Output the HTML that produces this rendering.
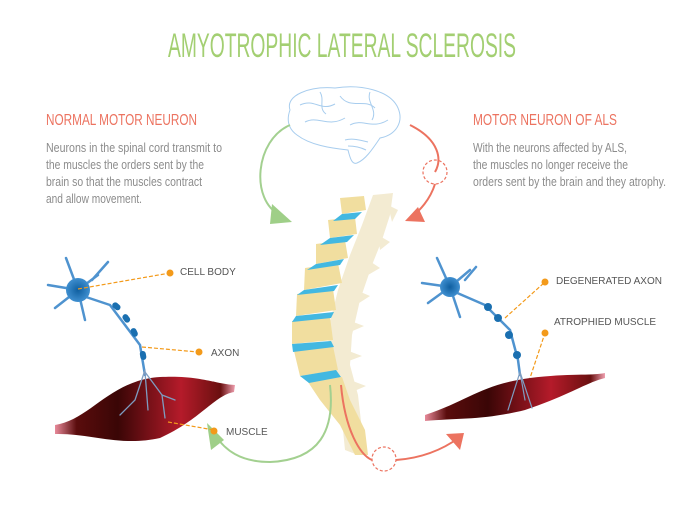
<!DOCTYPE html>
<html><head><meta charset="utf-8"><style>
html,body{margin:0;padding:0;background:#fff;width:683px;height:512px;overflow:hidden}
svg{display:block}
text{font-family:"Liberation Sans Narrow","Liberation Sans",sans-serif}
</style></head><body>
<svg width="683" height="512" viewBox="0 0 683 512">
<defs>
<linearGradient id="m1" x1="0" y1="0" x2="1" y2="0">
<stop offset="0" stop-color="#e88a9a"/><stop offset="0.12" stop-color="#5a0c0c"/><stop offset="0.35" stop-color="#3a0606"/><stop offset="0.7" stop-color="#b51b2a"/><stop offset="0.92" stop-color="#6a1010"/><stop offset="1" stop-color="#f0a0b0"/>
</linearGradient>
<radialGradient id="cb" cx="0.5" cy="0.5" r="0.5"><stop offset="0" stop-color="#0f5fa0"/><stop offset="1" stop-color="#3f8fd0"/></radialGradient>
</defs>

<text x="342" y="57" text-anchor="middle" font-size="34" fill="#a3cf72" textLength="348" lengthAdjust="spacingAndGlyphs">AMYOTROPHIC LATERAL SCLEROSIS</text>

<text x="46" y="125" font-size="16" fill="#ec7360" textLength="151" lengthAdjust="spacingAndGlyphs">NORMAL MOTOR NEURON</text>
<g font-size="12.5" fill="#8c8c8c">
<text x="46" y="152" textLength="176" lengthAdjust="spacingAndGlyphs">Neurons in the spinal cord transmit to</text>
<text x="46" y="169" textLength="158" lengthAdjust="spacingAndGlyphs">the muscles the orders sent by the</text>
<text x="46" y="186" textLength="156" lengthAdjust="spacingAndGlyphs">brain so that the muscles contract</text>
<text x="46" y="203" textLength="96" lengthAdjust="spacingAndGlyphs">and allow movement.</text>
</g>
<text x="473" y="125" font-size="16" fill="#ec7360" textLength="144" lengthAdjust="spacingAndGlyphs">MOTOR NEURON OF ALS</text>
<g font-size="12.5" fill="#8c8c8c">
<text x="473" y="152" textLength="154" lengthAdjust="spacingAndGlyphs">With the neurons affected by ALS,</text>
<text x="473" y="169" textLength="155" lengthAdjust="spacingAndGlyphs">the muscles no longer receive the</text>
<text x="473" y="186" textLength="193" lengthAdjust="spacingAndGlyphs">orders sent by the brain and they atrophy.</text>
</g>

<!-- brain -->
<g fill="none" stroke="#a8cdee" stroke-width="1">
<path d="M290 110 C285 95 310 86 335 88 C360 84 390 90 398 108 C404 122 396 135 380 138 C372 150 365 160 357 163 C352 165 350 158 348 150 C330 148 310 145 297 135 C287 128 287 118 290 110Z"/>
<path d="M300 105 C315 98 320 112 335 104 M340 96 C350 110 365 98 375 108 M305 122 C318 115 328 128 345 118 M350 125 C362 118 372 130 388 120 M320 92 C325 100 318 108 326 114 M370 92 C366 102 378 110 372 120"/>
<path d="M345 140 C352 138 360 140 368 142 M348 146 C356 146 362 148 366 150"/>
</g>

<!-- arrows green top -->
<path d="M290 125 C255 140 250 200 280 215" fill="none" stroke="#a3d090" stroke-width="2"/>
<path d="M272 204 L292 222 L270 224 Z" fill="#9fcf88"/>
<!-- red top -->
<path d="M410 125 C440 140 442 160 435 172" fill="none" stroke="#ec7360" stroke-width="2"/>
<circle cx="435" cy="172" r="12" fill="none" stroke="#ec7360" stroke-width="1.2" stroke-dasharray="3 2"/>
<path d="M435 184 C430 200 420 210 410 219" fill="none" stroke="#ec7360" stroke-width="2"/>
<path d="M418 207 L405 221 L425 222 Z" fill="#ec7360"/>

<!-- spine back processes -->
<g fill="#f3ebd2">
<path d="M373 195 L393 193 L390 215 L382 240 L372 265 L360 300 L352 335 L350 365 L358 395 L362 430 L358 455 L345 450 L340 400 L330 370 L328 330 L338 290 L350 255 L362 225Z"/>
<path d="M388 205 L398 210 L392 222 Z M378 235 L390 242 L380 250Z M368 260 L380 268 L368 275Z M356 290 L370 296 L356 305Z M348 320 L364 326 L348 333Z M346 350 L362 356 L346 362Z M350 380 L366 386 L352 392Z"/>
</g>
<!-- spine bodies -->
<g fill="#f1de9f">
<path d="M340 198 L364 196 L366 210 L342 214Z"/>
<path d="M328 220 L355 217 L357 234 L330 238Z"/>
<path d="M316 244 L345 240 L348 258 L316 264Z"/>
<path d="M305 268 L338 263 L342 283 L304 290Z"/>
<path d="M297 294 L333 289 L336 310 L296 316Z"/>
<path d="M292 321 L330 317 L333 340 L292 344Z"/>
<path d="M294 351 L333 346 L338 370 L300 376Z"/>
<path d="M308 382 L342 377 L350 400 L365 430 L368 455 L355 455 L340 425 L320 400Z"/>
</g>
<g fill="#43b8e1">
<path d="M342 214 L362 212 L355 219 L333 221Z"/>
<path d="M330 238 L354 235 L347 242 L320 245Z"/>
<path d="M316 264 L344 259 L340 265 L307 270Z"/>
<path d="M304 290 L338 285 L334 291 L297 295Z"/>
<path d="M296 316 L334 312 L331 318 L292 322Z"/>
<path d="M292 344 L331 341 L334 347 L293 352Z"/>
<path d="M300 376 L336 370 L341 377 L309 383Z"/>
</g>

<!-- bottom arrows -->
<path d="M330 385 C335 430 320 460 270 462 C240 462 225 450 215 435" fill="none" stroke="#a3d090" stroke-width="2"/>
<path d="M207 423 L224 440 L211 450 Z" fill="#9fcf88"/>
<path d="M341 385 C345 430 360 455 372 460" fill="none" stroke="#ec7360" stroke-width="2"/>
<circle cx="384" cy="459" r="12" fill="none" stroke="#ec7360" stroke-width="1.2" stroke-dasharray="3 2"/>
<path d="M396 460 C425 458 445 448 460 437" fill="none" stroke="#ec7360" stroke-width="2"/>
<path d="M446 434 L464 433 L460 450 Z" fill="#ec7360"/>

<!-- left muscle -->
<path d="M55 425 C90 420 110 380 160 377 C200 375 215 384 235 385 L234 392 C215 395 200 420 160 438 C120 447 90 433 55 434Z" fill="url(#m1)"/>
<!-- left neuron -->
<g stroke="#4f93cf" fill="none" stroke-linecap="round">
<path d="M78 290 L66 258 M78 290 L48 285 M78 290 L55 308 M78 290 L85 320 M78 290 L98 275 M92 280 L108 262 M80 295 L110 305 L140 345 L145 375" stroke-width="2.5"/>
<path d="M145 370 L135 400 L120 415 M145 372 L148 410 M145 372 L162 395 L165 418 M162 395 L175 400" stroke-width="1.3" stroke="#7e9cc0"/>
</g>
<circle cx="78" cy="290" r="12" fill="url(#cb)"/>
<g fill="#1a6fb0">
<rect x="112" y="303" width="9" height="6" rx="3" transform="rotate(40 116 306)"/>
<rect x="122" y="315" width="9" height="6" rx="3" transform="rotate(55 126 318)"/>
<rect x="130" y="329" width="9" height="6" rx="3" transform="rotate(65 134 332)"/>
<rect x="139" y="352" width="9" height="6" rx="3" transform="rotate(80 143 355)"/>
</g>
<g stroke="#f39a1a" stroke-dasharray="4 2" stroke-width="1.2" fill="none">
<path d="M78 289 L170 273"/><path d="M142 347 L198 352"/><path d="M168 422 L214 430"/>
<path d="M505 318 L545 282"/><path d="M525 393 L545 333"/>
</g>
<g fill="#f39a1a">
<circle cx="170" cy="273" r="3.5"/><circle cx="199" cy="352" r="3.5"/><circle cx="214" cy="431" r="3.5"/>
<circle cx="545" cy="282" r="3.5"/><circle cx="545" cy="333" r="3.5"/>
</g>
<g font-size="10" fill="#555">
<text x="180" y="275">CELL BODY</text>
<text x="211" y="356">AXON</text>
<text x="226" y="435">MUSCLE</text>
<text x="556" y="284">DEGENERATED AXON</text>
<text x="554" y="325">ATROPHIED MUSCLE</text>
</g>

<!-- right muscle -->
<path d="M425 415 C470 400 480 385 530 378 C570 373 590 376 605 373 L605 378 C585 383 570 395 525 410 C485 420 460 418 425 421Z" fill="url(#m1)"/>
<!-- right neuron -->
<g stroke="#4f93cf" fill="none" stroke-linecap="round">
<path d="M450 287 L437 258 M450 287 L422 283 M450 287 L428 303 M450 287 L460 317 M450 287 L470 270 M465 280 L476 267 M455 292 L485 305 L510 330 L518 360 L520 375" stroke-width="2.5"/>
<path d="M520 372 L508 410 M520 372 L532 408 M520 372 L525 400" stroke-width="1.2" stroke="#7e9cc0"/>
</g>
<circle cx="450" cy="287" r="10" fill="url(#cb)"/>
<g fill="#1a6fb0">
<circle cx="488" cy="307" r="4"/><circle cx="498" cy="318" r="4"/><circle cx="509" cy="335" r="4"/><circle cx="517" cy="355" r="4"/>
</g>
</svg>
</body></html>
